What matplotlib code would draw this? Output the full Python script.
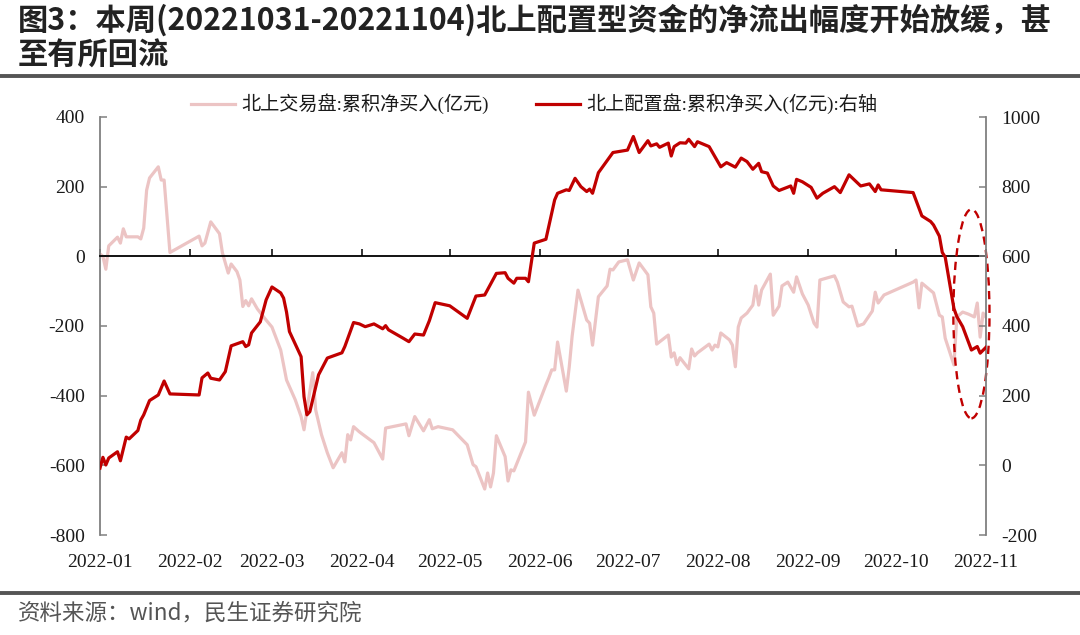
import matplotlib
matplotlib.use('Agg')
import matplotlib.pyplot as plt
import matplotlib.dates as mdates
from matplotlib.patches import Ellipse
from matplotlib.lines import Line2D
import pandas as pd

plt.rcParams['axes.unicode_minus'] = False

# ---------------- data ----------------
trade_dates = ["2022-01-04","2022-01-05","2022-01-06","2022-01-07","2022-01-10","2022-01-11","2022-01-12","2022-01-13",
"2022-01-17","2022-01-18","2022-01-19","2022-01-20","2022-01-21","2022-01-24","2022-01-25","2022-01-26","2022-01-28",
"2022-02-07","2022-02-08","2022-02-09","2022-02-11","2022-02-14","2022-02-15","2022-02-17","2022-02-18","2022-02-20",
"2022-02-21","2022-02-22","2022-02-23","2022-02-24","2022-02-25","2022-02-27","2022-03-02","2022-03-04","2022-03-07",
"2022-03-09","2022-03-12","2022-03-14","2022-03-15","2022-03-16","2022-03-18","2022-03-19","2022-03-21","2022-03-23",
"2022-03-25","2022-03-28","2022-03-29","2022-03-30","2022-03-31","2022-04-01","2022-04-03","2022-04-08","2022-04-11",
"2022-04-12","2022-04-19","2022-04-20","2022-04-22","2022-04-25","2022-04-27","2022-04-28","2022-04-30","2022-05-05",
"2022-05-10","2022-05-12","2022-05-13","2022-05-16","2022-05-17","2022-05-18","2022-05-19","2022-05-20","2022-05-23",
"2022-05-24","2022-05-25","2022-05-26","2022-05-30","2022-05-31","2022-06-02","2022-06-06","2022-06-07","2022-06-08",
"2022-06-09","2022-06-10","2022-06-13","2022-06-14","2022-06-15","2022-06-17","2022-06-20","2022-06-21","2022-06-22",
"2022-06-24","2022-06-27","2022-06-28","2022-06-29","2022-07-01","2022-07-04","2022-07-06","2022-07-08","2022-07-11",
"2022-07-12","2022-07-13","2022-07-14","2022-07-18","2022-07-19","2022-07-20","2022-07-21","2022-07-22","2022-07-25",
"2022-07-26","2022-07-27","2022-07-28","2022-08-01","2022-08-02","2022-08-03","2022-08-04","2022-08-05","2022-08-08",
"2022-08-09","2022-08-10","2022-08-11","2022-08-12","2022-08-14","2022-08-16","2022-08-17","2022-08-18","2022-08-19",
"2022-08-22","2022-08-23","2022-08-25","2022-08-26","2022-08-28","2022-08-30","2022-08-31","2022-09-02","2022-09-04",
"2022-09-06","2022-09-07","2022-09-08","2022-09-13","2022-09-14","2022-09-16","2022-09-18","2022-09-19","2022-09-21",
"2022-09-23","2022-09-26","2022-09-27","2022-09-28","2022-09-30","2022-10-10","2022-10-11","2022-10-12","2022-10-13",
"2022-10-17","2022-10-19","2022-10-20","2022-10-21","2022-10-24","2022-10-25","2022-10-27","2022-10-29","2022-10-31",
"2022-11-01","2022-11-02","2022-11-03","2022-11-04"]
trade_values = [7,0,-37,30,55,38,79,56,
56,50,81,190,225,257,219,219,11,
58,30,38,99,65,10,-48,-22,-44,
-68,-144,-127,-142,-122,-151,-183,-203,-269,
-355,-412,-460,-498,-441,-334,-441,-512,-564,
-607,-564,-590,-512,-527,-489,-504,-535,-582,
-493,-481,-515,-460,-501,-469,-495,-489,-498,
-541,-598,-604,-668,-622,-662,-622,-515,-575,
-645,-613,-616,-533,-390,-456,-369,-349,-326,
-326,-246,-387,-318,-229,-97,-183,-192,-255,
-116,-85,-37,-39,-16,-10,-68,-19,-53,
-145,-163,-252,-226,-289,-277,-311,-291,-323,
-266,-286,-277,-252,-269,-255,-260,-220,-240,
-255,-317,-203,-177,-163,-140,-85,-140,-97,
-51,-169,-143,-85,-74,-103,-59,-108,-140,
-192,-203,-68,-56,-74,-131,-145,-143,-200,
-194,-157,-103,-134,-111,-74,-68,-148,-77,
-105,-169,-174,-235,-312,-174,-160,-166,-174,
-134,-232,-163,-175]

alloc_dates = ["2022-01-04","2022-01-05","2022-01-06","2022-01-07","2022-01-10","2022-01-11","2022-01-13","2022-01-14",
"2022-01-17","2022-01-18","2022-01-19","2022-01-21","2022-01-24","2022-01-26","2022-01-28","2022-02-07","2022-02-08",
"2022-02-10","2022-02-11","2022-02-14","2022-02-16","2022-02-18","2022-02-22","2022-02-23","2022-02-24","2022-02-25",
"2022-02-28","2022-03-02","2022-03-04","2022-03-07","2022-03-08","2022-03-09","2022-03-10","2022-03-14","2022-03-15",
"2022-03-16","2022-03-17","2022-03-20","2022-03-23","2022-03-28","2022-03-29","2022-04-01","2022-04-03","2022-04-05",
"2022-04-08","2022-04-11","2022-04-12","2022-04-13","2022-04-18","2022-04-20","2022-04-22","2022-04-25","2022-04-27",
"2022-04-29","2022-05-04","2022-05-10","2022-05-13","2022-05-16","2022-05-20","2022-05-23","2022-05-24","2022-05-26",
"2022-05-27","2022-05-30","2022-05-31","2022-06-02","2022-06-06","2022-06-09","2022-06-10","2022-06-13","2022-06-14",
"2022-06-16","2022-06-18","2022-06-20","2022-06-21","2022-06-22","2022-06-24","2022-06-29","2022-07-04","2022-07-06",
"2022-07-08","2022-07-11","2022-07-12","2022-07-14","2022-07-15","2022-07-18","2022-07-19","2022-07-20","2022-07-22",
"2022-07-24","2022-07-25","2022-07-27","2022-07-28","2022-08-01","2022-08-05","2022-08-07","2022-08-10","2022-08-12",
"2022-08-14","2022-08-16","2022-08-18","2022-08-19","2022-08-21","2022-08-23","2022-08-25","2022-08-29","2022-08-30",
"2022-08-31","2022-09-02","2022-09-05","2022-09-07","2022-09-09","2022-09-13","2022-09-15","2022-09-18","2022-09-22",
"2022-09-25","2022-09-27","2022-09-28","2022-09-29","2022-10-10","2022-10-13","2022-10-16","2022-10-17","2022-10-19",
"2022-10-20","2022-10-21","2022-10-24","2022-10-25","2022-10-27","2022-10-30","2022-11-01","2022-11-02","2022-11-04"]
alloc_values = [-8,23,1,21,39,13,81,76,
100,130,145,186,202,242,205,202,251,
265,250,245,269,343,355,341,346,380,
412,475,512,495,480,440,384,312,197,
145,154,260,308,323,341,410,406,398,
406,392,401,389,365,355,377,374,415,
467,458,422,486,489,551,553,537,523,
537,537,527,638,649,762,781,791,789,
824,800,786,793,781,840,898,905,944,
898,932,917,923,913,925,888,915,926,
925,936,915,929,915,857,869,856,882,
872,850,867,843,839,802,789,802,781,
821,814,798,767,781,800,783,834,802,
808,786,805,791,783,716,700,690,658,
611,598,450,427,398,331,341,322,339]

tick_dates = ["2022-01-04","2022-02-04","2022-03-04","2022-04-04","2022-05-04","2022-06-04",
              "2022-07-04","2022-08-04","2022-09-04","2022-10-04","2022-11-04"]
tick_labels = ["2022-01","2022-02","2022-03","2022-04","2022-05","2022-06",
               "2022-07","2022-08","2022-09","2022-10","2022-11"]
left_ticks = [-800, -600, -400, -200, 0, 200, 400]
right_ticks = [-200, 0, 200, 400, 600, 800, 1000]

title = "图3：本周(20221031-20221104)北上配置型资金的净流出幅度开始放缓，甚\n至有所回流"
legend_labels = ["北上交易盘:累积净买入(亿元)", "北上配置盘:累积净买入(亿元):右轴"]
source = "资料来源：wind，民生证券研究院"

# ---------------- style ----------------
RED = "#C00000"
PINK = "#ECC4C4"
CJK = ["Noto Sans CJK SC", "DejaVu Sans"]
SERIF = ["Liberation Serif", "Noto Sans CJK SC"]

W, H = 1080, 635
fig = plt.figure(figsize=(W / 100, H / 100), dpi=100)
ax = fig.add_axes([100 / W, 1 - 535 / H, 886 / W, 418 / H])
ax2 = ax.twinx()

td = pd.to_datetime(trade_dates)
ad = pd.to_datetime(alloc_dates)
l1, = ax.plot(td, trade_values, color=PINK, lw=2.3, solid_joinstyle='round', zorder=2)
l2, = ax2.plot(ad, alloc_values, color=RED, lw=2.3, solid_joinstyle='round', zorder=3)

x0 = pd.Timestamp(tick_dates[0])
x1 = pd.Timestamp(tick_dates[-1])
ax.set_xlim(x0, x1)
ax.set_ylim(-800, 400)
ax2.set_ylim(-200, 1000)
ax.set_yticks(left_ticks)
ax2.set_yticks(right_ticks)

ax.set_xticks(pd.to_datetime(tick_dates))
ax.set_xticklabels(tick_labels)

# spines
ax.spines['right'].set_visible(False)
ax.spines['bottom'].set_visible(False)
ax.spines['top'].set_position(('data', 0))
ax.spines['top'].set_color('black')
ax.spines['top'].set_linewidth(1.3)
ax.spines['left'].set_color('#808080')
ax.spines['left'].set_linewidth(1.3)
for s in ['top', 'bottom', 'left']:
    ax2.spines[s].set_visible(False)
ax2.spines['right'].set_color('#808080')
ax2.spines['right'].set_linewidth(1.3)

ax.tick_params(axis='x', which='both', bottom=False, top=True, labelbottom=True, labeltop=False,
               direction='out', length=5, width=1.1, color='black', pad=9, labelsize=14)
ax.tick_params(axis='y', direction='in', length=5, width=1.1, color='#808080', pad=11, labelsize=14)
ax2.tick_params(axis='y', direction='in', length=5, width=1.1, color='#808080', pad=11, labelsize=14)
for lab in ax.get_xticklabels() + ax.get_yticklabels() + ax2.get_yticklabels():
    lab.set_fontfamily(SERIF)
    lab.set_color('#1a1a1a')

# dashed ellipse highlighting the latest week
ec = mdates.date2num(pd.Timestamp("2022-10-30"))
ell = Ellipse((ec, -165), width=12.4, height=600, fill=False, edgecolor=RED,
              lw=1.7, linestyle=(0, (3.5, 2.3)), clip_on=False, zorder=5)
ax.add_patch(ell)

# legend
leg = ax.legend(handles=[l1, l2], labels=legend_labels, loc='center', bbox_to_anchor=(0.49, 1.031),
                ncol=2, frameon=False, prop={'family': SERIF, 'size': 13.8},
                handlelength=2.3, handletextpad=0.3, columnspacing=2.5, borderaxespad=0)
for t in leg.get_texts():
    t.set_color('#1a1a1a')

# title, rules and source
fig.text(18 / W, 1 - 4 / H, title, ha='left', va='top', fontsize=21.8, fontweight='bold',
         family=CJK, color='#222222', linespacing=1.12)
fig.add_artist(Line2D([0, 1], [1 - 76 / H, 1 - 76 / H], transform=fig.transFigure, color='#555555', lw=2.8))
fig.add_artist(Line2D([0, 1], [1 - 593 / H, 1 - 593 / H], transform=fig.transFigure, color='#555555', lw=2.8))
fig.text(18 / W, 1 - 613 / H, source, ha='left', va='center', fontsize=16.2, family=CJK, color='#555555')

fig.savefig("out.png", dpi=100)
